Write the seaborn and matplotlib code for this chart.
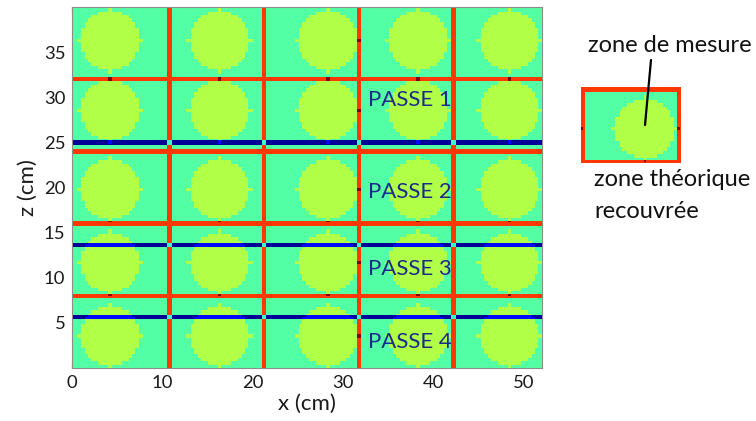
import numpy as np
import matplotlib
matplotlib.use("Agg")
import matplotlib.pyplot as plt
from matplotlib.lines import Line2D
import seaborn as sns

# ---------------- data (cm) ----------------
x_max, z_max = 52.0, 40.0
step = 0.125
vertical_red_x = [10.7, 21.2, 31.7, 42.3]
horizontal_red_z = [32.0, 24.0, 16.0, 8.0]
horizontal_blue_z = [25.0, 13.6, 5.6]
circle_x = [4.2, 16.3, 28.3, 38.3, 48.4]
circle_z = [36.3, 28.6, 19.8, 11.7, 3.6]
circle_r = 3.3
spike_r = 3.7
x_ticks = [0, 10, 20, 30, 40, 50]
z_ticks = [5, 10, 15, 20, 25, 30, 35]
pass_labels = ["PASSE 1", "PASSE 2", "PASSE 3", "PASSE 4"]
pass_label_z = [29.75, 19.46, 10.94, 2.87]
pass_label_x = 32.75

# inset: one theoretical cell
inset_x_range = (-0.2, 10.7)
inset_z_range = (-0.2, 8.2)
inset_red_x = [0.0, 10.5]
inset_red_z = [0.0, 8.0]
inset_circles = [(6.8, 3.63), (-3.7, 3.63)]

# levels of the coverage field (jet colormap scale)
level_base = 0.45
level_circle = 0.565
red_gain = 0.40
blue_gain = 0.43
level_dot = 1.0
line_half_width = 0.24


def line_profile(d):
    return (np.abs(d) <= line_half_width).astype(float)


def field(xs, zs, red_x, red_z, blue_z, circles):
    X, Z = np.meshgrid(xs, zs)
    block = 3 * step
    body = np.zeros_like(X, dtype=bool)
    spike = np.zeros_like(X, dtype=bool)
    for cx, cz in circles:
        dx = np.round((X - cx) / block) * block
        dz = np.round((Z - cz) / block) * block
        body |= dx ** 2 + dz ** 2 <= circle_r ** 2
        spike |= ((np.abs(X - cx) < block / 2) & (np.abs(Z - cz) <= spike_r)) | \
                 ((np.abs(Z - cz) < block / 2) & (np.abs(X - cx) <= spike_r))
    red = np.zeros_like(X)
    for lx in red_x:
        red = np.maximum(red, line_profile(X - lx))
    for lz in red_z:
        red = np.maximum(red, line_profile(Z - lz))
    blue = np.zeros_like(X)
    for lz in blue_z:
        blue = np.maximum(blue, line_profile(Z - lz))
    v = np.where(body | spike, level_circle, level_base)
    v = np.maximum(v, level_base + red_gain * red)
    v = v - blue_gain * blue
    v = np.where(spike & ~body & (red > 0.6), level_dot, v)
    return v


# main grid
nx = int(round(x_max / step))
nz = int(round(z_max / step))
xs = (np.arange(nx) + 0.5) * step
zs = z_max - (np.arange(nz) + 0.5) * step
main_circles = [(cx, cz) for cx in circle_x for cz in circle_z]
V = field(xs, zs, vertical_red_x, horizontal_red_z, horizontal_blue_z, main_circles)

# inset grid
inx = int(round((inset_x_range[1] - inset_x_range[0]) / step))
inz = int(round((inset_z_range[1] - inset_z_range[0]) / step))
ixs = inset_x_range[0] + (np.arange(inx) + 0.5) * step
izs = inset_z_range[1] - (np.arange(inz) + 0.5) * step
VI = field(ixs, izs, inset_red_x, inset_red_z, [], inset_circles)

# ---------------- figure ----------------
sns.set_theme(style="ticks")
plt.rcParams["font.family"] = ["Lato", "DejaVu Sans"]

W, H = 756, 421
fig = plt.figure(figsize=(W / 100, H / 100), dpi=100)
ax = fig.add_axes([72.3 / W, (H - 368) / H, 469.4 / W, 361 / H])

sns.heatmap(V, ax=ax, cmap="jet", vmin=0, vmax=1, cbar=False,
            xticklabels=False, yticklabels=False, rasterized=True)

ax.set_xticks([t / step for t in x_ticks])
ax.set_xticklabels([str(t) for t in x_ticks])
ax.set_yticks([(z_max - t) / step for t in z_ticks])
ax.set_yticklabels([str(t) for t in z_ticks], rotation=0)
ax.tick_params(direction="in", length=4, width=0.8, color="#444444",
               top=True, right=True, labeltop=False, labelright=False,
               labelsize=13.3, labelcolor="#1a1a1a", pad=5)
for sp in ax.spines.values():
    sp.set_visible(True)
    sp.set_color("#8c8c8c")
    sp.set_linewidth(0.8)
ax.set_xlabel("x (cm)", fontsize=16, color="#1a1a1a", labelpad=2)
ax.set_ylabel("z (cm)", fontsize=16, color="#1a1a1a", labelpad=4)

for lab, zc in zip(pass_labels, pass_label_z):
    ax.text(pass_label_x / step, (z_max - zc) / step, lab, ha="left", va="center",
            fontsize=16, color="#1c2a8c")

# inset
axi = fig.add_axes([580.7 / W, (H - 163.3) / H, 100 / W, 76 / H])
sns.heatmap(VI, ax=axi, cmap="jet", vmin=0, vmax=1, cbar=False,
            xticklabels=False, yticklabels=False, rasterized=True)
axi.set_xticks([])
axi.set_yticks([])
for sp in axi.spines.values():
    sp.set_visible(False)

fig.text(588 / W, 1 - 46 / H, "zone de mesure", ha="left", va="center",
         fontsize=17, color="#111111")
fig.text(594 / W, 1 - 180 / H, "zone théorique", ha="left", va="center",
         fontsize=17, color="#111111")
fig.text(594 / W, 1 - 212 / H, "recouvrée", ha="left", va="center",
         fontsize=17, color="#111111")
fig.add_artist(Line2D([651 / W, 645 / W], [1 - 60 / H, 1 - 125 / H],
                      transform=fig.transFigure, color="black", lw=1.6))

fig.savefig("out.png", dpi=100)
